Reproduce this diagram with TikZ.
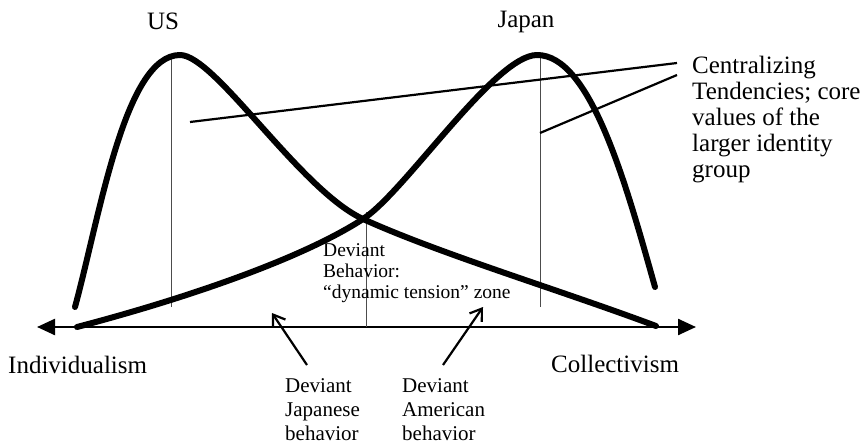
\documentclass[tikz,border=0pt]{standalone}
\usepackage{fontspec}
\setmainfont{Liberation Serif}
\usetikzlibrary{arrows.meta}
\begin{document}
\begin{tikzpicture}[x=1pt,y=-1pt,
  curve/.style={line width=6pt, line cap=round, line join=round},
  guide/.style={line width=1pt, black!70},
  pointer/.style={line width=2.2pt},
  devarrow/.style={line width=2.2pt, -{Straight Barb[length=11pt,width=15pt,line width=2.2pt]}},
  axisline/.style={line width=2.4pt, {Triangle[length=18pt,width=16pt]}-{Triangle[length=18pt,width=16pt]}},
  big/.style={font=\fontsize{25}{26}\selectfont, inner sep=0pt, align=left},
  mid/.style={font=\fontsize{19.5}{21}\selectfont, inner sep=0pt, align=left},
  small/.style={font=\fontsize{21}{24}\selectfont, inner sep=0pt, align=left}]
\useasboundingbox (0,0) rectangle (868,444);

% axis
\coordinate (axL) at (37,327);
\coordinate (axR) at (696,327);
\draw[axisline] (axL) -- (axR);

% guide lines
\coordinate (usTop) at (171,58);
\coordinate (usBot) at (171,307);
\coordinate (midTop) at (366,212);
\coordinate (midBot) at (366,327);
\coordinate (jpTop) at (540,58);
\coordinate (jpBot) at (540,307);
\draw[guide] (usTop) -- (usBot);
\draw[guide] (midTop) -- (midBot);
\draw[guide] (jpTop) -- (jpBot);

% curves
\coordinate (usStart) at (75,307);
\coordinate (usPeak) at (180,55);
\coordinate (cross) at (363,219);
\coordinate (usEnd) at (656,326);
\coordinate (jpStart) at (77,327);
\coordinate (jpPeak) at (537,55);
\coordinate (jpEnd) at (655,287);
\draw[curve] (usStart) .. controls (100,215) and (125,55) .. (usPeak)
  .. controls (215,55) and (300,190) .. (cross)
  .. controls (440,254) and (560,290) .. (usEnd);
\draw[curve] (jpStart) .. controls (180,300) and (300,260) .. (cross)
  .. controls (405,192) and (495,55) .. (jpPeak)
  .. controls (590,55) and (625,180) .. (jpEnd);

% centralizing pointers
\coordinate (c1) at (190,122);
\coordinate (c2) at (540,133);
\coordinate (ct1) at (677,63);
\coordinate (ct2) at (677,75);
\draw[pointer] (c1) -- (ct1);
\draw[pointer] (c2) -- (ct2);

% texts
\node[big, anchor=base] (us) at (163,30) {US};
\node[big, anchor=base] (japan) at (526,28) {Japan};
\node[big, anchor=base west] (indiv) at (8,373) {Individualism};
\node[big, anchor=base west] (coll) at (551,372) {Collectivism};
\node[big, anchor=north west] (cent) at (692,56) {Centralizing\\Tendencies; core\\values of the\\larger identity\\group};
\node[mid, anchor=north west] (tension) at (323,243) {Deviant\\Behavior:\\“dynamic tension” zone};
\node[small, anchor=north west] (djap) at (285,378) {Deviant\\Japanese\\behavior};
\node[small, anchor=north west] (damer) at (402,378) {Deviant\\American\\behavior};

% deviant arrows
\coordinate (jt) at (307,365);
\coordinate (jh) at (272,313);
\coordinate (at) at (443,365);
\coordinate (ah) at (483,307);
\draw[devarrow] (jt) -- (jh);
\draw[devarrow] (at) -- (ah);
\end{tikzpicture}
\end{document}
